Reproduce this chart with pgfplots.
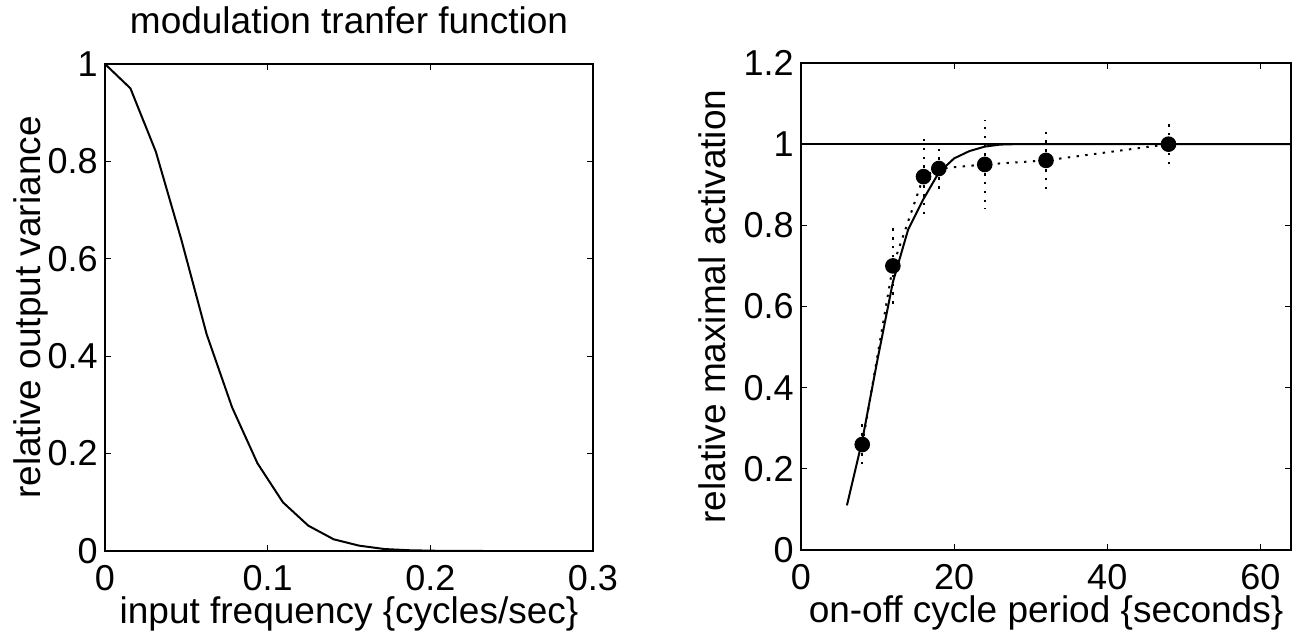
\documentclass[border=0pt]{standalone}
\usepackage{fontspec}
\setmainfont{Liberation Sans}
\usepackage{pgfplots}
\pgfplotsset{compat=1.18}
\begin{document}
\begin{tikzpicture}
\useasboundingbox (0,0) rectangle (648.5pt,319.5pt);
\pgfplotsset{
  mystyle/.style={
    scale only axis,
    axis line style={line width=0.9pt},
    tick style={line width=0.6pt, black},
    major tick length=3pt,
    tick align=inside,
    /pgf/number format/assume math mode=true,
    /pgf/number format/fixed,
    /pgf/number format/precision=1,
    tick label style={font=\fontsize{18}{20}\selectfont},
    yticklabel style={inner sep=0pt, xshift=-3.5pt},
    xticklabel style={anchor=base, inner sep=0pt, yshift=-19.5pt},
    label style={font=\fontsize{18.5}{20}\selectfont},
    xlabel style={at={(axis description cs:0.5,0)}, anchor=base, yshift=-36pt},
    title style={at={(axis description cs:0.5,1)}, anchor=base, yshift=9.5pt, font=\fontsize{18.5}{20}\selectfont},
  }
}
\begin{axis}[mystyle,
  at={(52.5pt,44pt)}, anchor=south west,
  width=244pt, height=243.5pt,
  xmin=0, xmax=0.3, ymin=0, ymax=1,
  xtick={0,0.1,0.2,0.3}, ytick={0,0.2,0.4,0.6,0.8,1},
  title={modulation tranfer function},
  xlabel={input frequency \{cycles/sec\}},
  ylabel={relative output variance},
  ylabel style={at={(axis description cs:-0.1332,0.5)}, anchor=base},
]
\addplot[black, line width=1pt] coordinates {
(0,1.0) (0.015625,0.95) (0.03125,0.82) (0.046875,0.64) (0.0625,0.445)
(0.078125,0.295) (0.09375,0.18) (0.109375,0.10) (0.125,0.052)
(0.140625,0.024) (0.15625,0.011) (0.171875,0.004) (0.1875,0.0015)
(0.203125,0.0005) (0.21875,0.0001) (0.234375,0) (0.25,0) (0.265625,0)
(0.28125,0) (0.296875,0)
};
\end{axis}
\begin{axis}[mystyle,
  at={(400.5pt,44.5pt)}, anchor=south west,
  width=245pt, height=243.5pt,
  xmin=0, xmax=64, ymin=0, ymax=1.2,
  xtick={0,20,40,60}, ytick={0,0.2,0.4,0.6,0.8,1,1.2},
  xlabel={on-off cycle period \{seconds\}},
  ylabel={relative maximal activation},
  ylabel style={at={(axis description cs:-0.155,0.5)}, anchor=base},
]
\addplot[black, line width=1pt] coordinates {(0,1) (64,1)};
\addplot[black, line width=1pt] coordinates {
(6,0.11) (8,0.27) (10,0.47) (12,0.66) (14,0.79) (16,0.865) (18,0.93)
(20,0.965) (22,0.983) (24,0.994) (26,0.999) (28,1.0) (64,1.0)
};
\addplot[black, line width=1pt, dash pattern=on 1.2pt off 3.2pt,
  mark=*, mark size=3.4pt, mark options={solid, fill=black},
  error bars/.cd, y dir=both, y explicit,
  error bar style={black, line width=1pt, dash pattern=on 1.2pt off 3.2pt},
  error mark=none]
table[x=x, y=y, y error=e] {
x y e
8 0.26 0.06
12 0.70 0.105
16 0.92 0.10
18 0.94 0.06
24 0.95 0.11
32 0.96 0.07
48 1.00 0.056
};
\end{axis}
\end{tikzpicture}
\end{document}
